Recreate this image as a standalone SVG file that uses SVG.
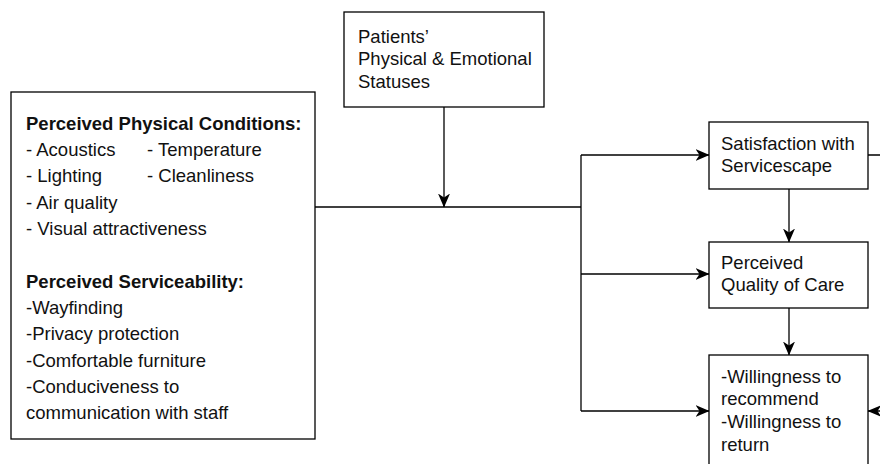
<svg xmlns="http://www.w3.org/2000/svg" width="880" height="464" viewBox="0 0 880 464">
<defs>
<style>
.box{fill:#fff;stroke:#000;stroke-width:1.3}
.t{font-family:"Liberation Sans",Arial,sans-serif;font-size:18.5px;fill:#111}
.b{font-weight:bold}
.c{fill:none;stroke:#000;stroke-width:1.3}
</style>
<marker id="ah" viewBox="0 0 14 12" refX="13.5" refY="6" markerWidth="14" markerHeight="12" markerUnits="userSpaceOnUse" orient="auto">
<path d="M0,0 L14,6 L0,12 L4,6 Z" fill="#000"/>
</marker>
</defs>
<rect width="880" height="464" fill="#fff"/>
<g id="connectors">
<path class="c" d="M444,107 V207" marker-end="url(#ah)"/>
<path class="c" d="M315,207 H581"/>
<path class="c" d="M581,155 V411"/>
<path class="c" d="M581,155 H709" marker-end="url(#ah)"/>
<path class="c" d="M581,274 H709" marker-end="url(#ah)"/>
<path class="c" d="M581,411 H709" marker-end="url(#ah)"/>
<path class="c" d="M789,189 V242" marker-end="url(#ah)"/>
<path class="c" d="M789,308 V355" marker-end="url(#ah)"/>
<path class="c" d="M868,155 H890 V411 H868" marker-end="url(#ah)"/>
</g>
<g id="physical">
<rect class="box" x="11" y="92" width="304" height="347"/>
<text class="t b" x="26" y="130">Perceived Physical Conditions:</text>
<text class="t" x="26" y="156">- Acoustics</text>
<text class="t" x="147" y="156">- Temperature</text>
<text class="t" x="26" y="182">- Lighting</text>
<text class="t" x="147" y="182">- Cleanliness</text>
<text class="t" x="26" y="209">- Air quality</text>
<text class="t" x="26" y="235">- Visual attractiveness</text>
<text class="t b" x="26" y="288">Perceived Serviceability:</text>
<text class="t" x="26" y="314">-Wayfinding</text>
<text class="t" x="26" y="340">-Privacy protection</text>
<text class="t" x="26" y="367">-Comfortable furniture</text>
<text class="t" x="26" y="393">-Conduciveness to</text>
<text class="t" x="26" y="419">communication with staff</text>
</g>
<g id="patients">
<rect class="box" x="344" y="12" width="200" height="95"/>
<text class="t" x="358" y="43">Patients’</text>
<text class="t" x="358" y="65">Physical &amp; Emotional</text>
<text class="t" x="358" y="88">Statuses</text>
</g>
<g id="satisfaction">
<rect class="box" x="709" y="122" width="159" height="67"/>
<text class="t" x="721" y="150">Satisfaction with</text>
<text class="t" x="721" y="172">Servicescape</text>
</g>
<g id="quality">
<rect class="box" x="709" y="242" width="159" height="66"/>
<text class="t" x="721" y="269">Perceived</text>
<text class="t" x="721" y="291">Quality of Care</text>
</g>
<g id="willingness">
<rect class="box" x="709" y="355" width="159" height="130"/>
<text class="t" x="721" y="383">-Willingness to</text>
<text class="t" x="721" y="405">recommend</text>
<text class="t" x="721" y="428">-Willingness to</text>
<text class="t" x="721" y="451">return</text>
</g>
</svg>
